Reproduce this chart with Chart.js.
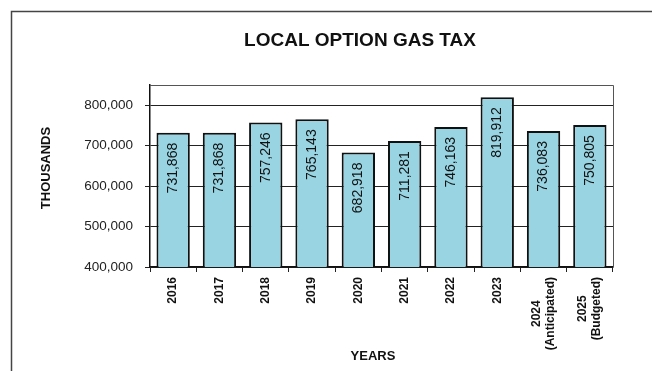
<!DOCTYPE html>
<html>
<head>
<meta charset="utf-8">
<script src="https://cdn.jsdelivr.net/npm/chart.js@4/dist/chart.umd.min.js"></script>
<style>
  html, body { margin: 0; padding: 0; background: #fff; }
  #wrap { width: 652px; height: 371px; }
</style>
</head>
<body>
<div id="wrap"><canvas id="gasTax" width="652" height="371"></canvas></div>
<script>
// Local option gas tax receipts, in thousands
const years = [
  ["2016"], ["2017"], ["2018"], ["2019"], ["2020"],
  ["2021"], ["2022"], ["2023"], ["2024", "(Anticipated)"], ["2025", "(Budgeted)"]
];
const revenue = [731868, 731868, 757246, 765143, 682918, 711281, 746163, 819912, 736083, 750805];
const yTicks = [400000, 500000, 600000, 700000, 800000];

const FONT = "'Liberation Sans', Arial, sans-serif";
const fmt = (v) => v.toLocaleString("en-US");

// frame, titles, year labels and value labels
const decorations = {
  id: "decorations",
  beforeDraw(chart) {
    const ctx = chart.ctx;
    ctx.save();
    ctx.strokeStyle = "#444";
    ctx.lineWidth = 1.5;
    ctx.strokeRect(11.5, 11.5, 900, 900);
    ctx.restore();
  },
  afterDraw(chart) {
    const { ctx, chartArea } = chart;
    const xScale = chart.scales.x;
    ctx.save();

    // plot box
    ctx.strokeStyle = "#555";
    ctx.lineWidth = 1;
    ctx.beginPath();
    ctx.moveTo(chartArea.left, chartArea.top + 0.5);
    ctx.lineTo(chartArea.right + 0.5, chartArea.top + 0.5);
    ctx.lineTo(chartArea.right + 0.5, chartArea.bottom);
    ctx.stroke();

    ctx.fillStyle = "#111";
    ctx.textAlign = "center";
    ctx.textBaseline = "middle";
    ctx.font = "bold 19px " + FONT;
    ctx.fillText("LOCAL OPTION GAS TAX", 360, 41);

    ctx.font = "bold 13px " + FONT;
    ctx.fillText("YEARS", 373, 356);

    ctx.save();
    ctx.translate(46, 168);
    ctx.rotate(-Math.PI / 2);
    ctx.font = "bold 13px " + FONT;
    ctx.fillText("THOUSANDS", 0, 0);
    ctx.restore();

    // year labels, rotated, lines centred on each other
    ctx.font = "bold 12px " + FONT;
    years.forEach((lines, i) => {
      const x = xScale.getPixelForTick(i);
      const widths = lines.map((l) => ctx.measureText(l).width);
      const maxW = Math.max(...widths);
      const lh = 14;
      lines.forEach((line, j) => {
        ctx.save();
        const lx = x + (j - (lines.length - 1) / 2) * lh;
        ctx.translate(lx, chartArea.bottom + 10 + (maxW - widths[j]) / 2);
        ctx.rotate(-Math.PI / 2);
        ctx.textAlign = "right";
        ctx.fillText(line, 0, 0);
        ctx.restore();
      });
    });

    // values inside the bars
    ctx.font = "14px " + FONT;
    const meta = chart.getDatasetMeta(0);
    meta.data.forEach((bar, i) => {
      ctx.save();
      ctx.translate(bar.x, bar.y + 10);
      ctx.rotate(-Math.PI / 2);
      ctx.textAlign = "right";
      ctx.fillText(fmt(revenue[i]), 0, 0);
      ctx.restore();
    });

    ctx.restore();
  }
};

new Chart(document.getElementById("gasTax"), {
  type: "bar",
  data: {
    labels: years,
    datasets: [{
      data: revenue,
      backgroundColor: "#98d4e2",
      borderColor: "#111",
      borderWidth: 2,
      categoryPercentage: 1,
      barPercentage: 0.72
    }]
  },
  options: {
    responsive: false,
    animation: false,
    layout: { padding: { top: 85, right: 39, left: 0, bottom: 0 } },
    plugins: {
      legend: { display: false },
      tooltip: { enabled: false }
    },
    scales: {
      x: {
        afterFit: (s) => { s.height = 104; },
        grid: { drawOnChartArea: false, drawTicks: true, tickLength: 5, color: "#222" },
        border: { color: "#111", width: 1.5 },
        ticks: { display: false }
      },
      y: {
        min: 400000,
        max: 850000,
        afterFit: (s) => { s.width = 150; },
        afterBuildTicks: (s) => { s.ticks = yTicks.map((v) => ({ value: v })); },
        grid: { color: "#222", lineWidth: 1, tickLength: 5 },
        border: { color: "#111", width: 1.5 },
        ticks: {
          padding: 12,
          color: "#222",
          font: { family: FONT, size: 13.5 },
          callback: (v) => fmt(v)
        }
      }
    }
  },
  plugins: [decorations]
});
</script>
</body>
</html>
